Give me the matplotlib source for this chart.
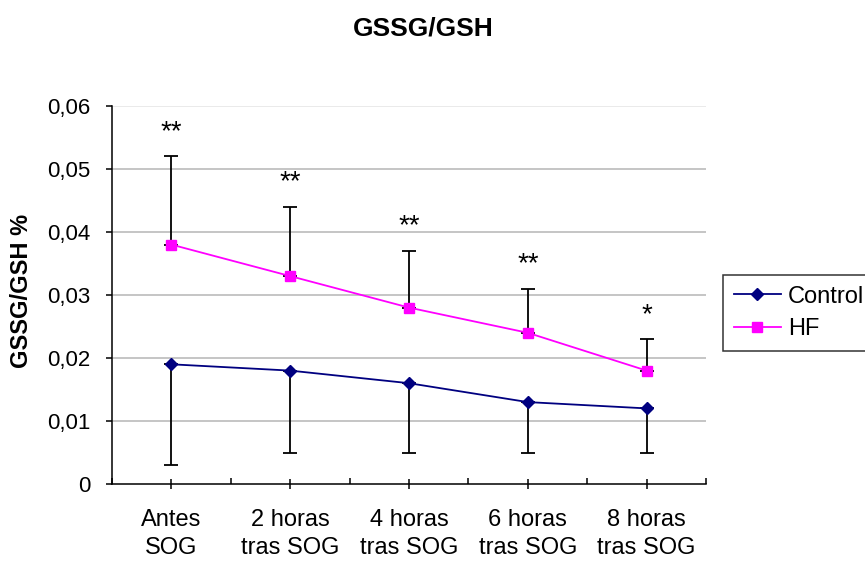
import matplotlib
matplotlib.use("Agg")
import matplotlib.pyplot as plt
from matplotlib.ticker import FixedLocator, FuncFormatter

plt.rcParams['font.family'] = ['Liberation Sans', 'DejaVu Sans']

# Data
categories = ["Antes\nSOG", "2 horas\ntras SOG", "4 horas\ntras SOG",
              "6 horas\ntras SOG", "8 horas\ntras SOG"]
control = [0.019, 0.018, 0.016, 0.013, 0.012]
control_sd = [0.016, 0.013, 0.011, 0.008, 0.007]
hf = [0.038, 0.033, 0.028, 0.024, 0.018]
hf_sd = [0.014, 0.011, 0.009, 0.007, 0.005]
significance = ["**", "**", "**", "**", "*"]
y_ticks = [0, 0.01, 0.02, 0.03, 0.04, 0.05, 0.06]

fig = plt.figure(figsize=(8.65, 5.63), dpi=100)
ax = fig.add_axes([112 / 865, 1 - 484 / 563, 594 / 865, 378 / 563])

x = list(range(len(categories)))
zeros = [0] * len(categories)

# Gridlines
for t in y_ticks[1:]:
    ax.axhline(t, color='#c0c0c0' if t < 0.06 else '#e8e8e8', lw=1.3, zorder=0)

# One-sided error bars (Control downward, HF upward)
ax.errorbar(x, control, yerr=[control_sd, zeros], fmt='none', ecolor='black',
            elinewidth=1.3, capsize=5, capthick=1.3, zorder=2)
ax.errorbar(x, hf, yerr=[zeros, hf_sd], fmt='none', ecolor='black',
            elinewidth=1.3, capsize=5, capthick=1.3, zorder=2)

ax.plot(x, control, color='#000080', lw=1.3, marker='D', markersize=6,
        markerfacecolor='#000080', markeredgecolor='#000080', label='Control', zorder=3)
ax.plot(x, hf, color='#FF00FF', lw=1.3, marker='s', markersize=7,
        markerfacecolor='#FF00FF', markeredgecolor='#FF00FF', label='HF', zorder=3)

# Significance marks above the HF error bars
for xi, v, sd, s in zip(x, hf, hf_sd, significance):
    ax.annotate(s, (xi, v + sd), xytext=(0, 12.5), textcoords='offset points',
                ha='center', va='baseline', fontsize=20)

ax.set_xlim(-0.5, len(categories) - 0.5)
ax.set_ylim(0, 0.06)
ax.yaxis.set_major_locator(FixedLocator(y_ticks))
ax.yaxis.set_major_formatter(FuncFormatter(
    lambda v, p: "0" if v == 0 else f"{v:.2f}".replace('.', ',')))

ax.set_xticks(x)
ax.set_xticklabels(categories, fontsize=17, linespacing=1.38)
ax.set_xticks([i - 0.5 for i in range(len(categories) + 1)], minor=True)
ax.tick_params(axis='x', which='major', direction='inout', length=7, width=1.1, pad=14.5)
ax.tick_params(axis='x', which='minor', direction='in', length=4.5, width=1.1)
ax.tick_params(axis='y', which='major', direction='out', length=4.5, width=1.1,
               labelsize=16, pad=11)

for side in ('top', 'right'):
    ax.spines[side].set_visible(False)
for side in ('left', 'bottom'):
    ax.spines[side].set_linewidth(1.1)
    ax.spines[side].set_color('black')

ax.set_ylabel("GSSG/GSH %", fontsize=17, fontweight='bold', va='center')
ax.yaxis.set_label_coords(-0.152, 0.51)

fig.text(423 / 865, 1 - 28 / 563, "GSSG/GSH", fontsize=19, fontweight='bold',
         ha='center', va='center')

leg = ax.legend(loc='upper left', bbox_to_anchor=(723 / 865, 1 - 275 / 563),
                bbox_transform=fig.transFigure, fontsize=17, frameon=True,
                fancybox=False, shadow=False, handlelength=2.0, handletextpad=0.3,
                borderpad=0.45, labelspacing=0.45, borderaxespad=0)
leg.get_frame().set_edgecolor('black')
leg.get_frame().set_linewidth(1.1)

fig.savefig("out.png", dpi=100)
